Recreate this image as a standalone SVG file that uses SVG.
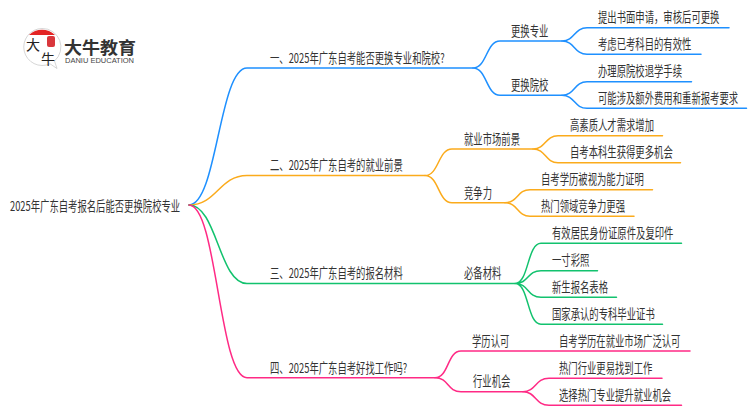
<svg xmlns="http://www.w3.org/2000/svg" width="750" height="410" viewBox="0 0 750 410">
<style>
text{font-family:"Noto Sans CJK SC","Noto Sans",sans-serif;font-size:13.350px;fill:#333;dominant-baseline:central}
.c{fill:none;stroke-width:1.500;stroke-linecap:round}
.b{stroke:#1e90ff}.o{stroke:#fbab1c}.g{stroke:#12c26e}.p{stroke:#ff2a85}
</style>
<rect width="750" height="410" fill="#fff"/>
<g id="connectors">
<path class="c b" d="M189 205C217 205 219 68 247 68H473"/>
<path class="c b" d="M473 68C487 68 486 41 500 41H562M473 68C487 68 486 95.300 500 95.300H562"/>
<path class="c b" d="M562 41C575 41 574 27.700 587 27.700H729M562 41C575 41 574 54.300 587 54.300H701"/>
<path class="c b" d="M562 95.300C575 95.300 574 81.700 587 81.700H691.500M562 95.300C575 95.300 574 108.300 587 108.300H746.500"/>
<path class="c o" d="M189 205C217 205 219 175.500 247 175.500H425"/>
<path class="c o" d="M425 175.500C439 175.500 438 149 452 149H533M425 175.500C439 175.500 438 202.700 452 202.700H505"/>
<path class="c o" d="M533 149C546 149 545 135.700 558 135.700H662.500M533 149C546 149 545 162.700 558 162.700H680.500"/>
<path class="c o" d="M505 202.700C518 202.700 517 189.700 530 189.700H652.500M505 202.700C518 202.700 517 216.300 530 216.300H634"/>
<path class="c g" d="M189 205C217 205 219 283.500 247 283.500H515"/>
<path class="c g" d="M515 283.500C529 283.500 527 243.300 541 243.300H681.500M515 283.500C529 283.500 527 270.700 541 270.700H597.500M515 283.500C529 283.500 527 297.300 541 297.300H616.500M515 283.500C529 283.500 527 324.300 541 324.300H662.500"/>
<path class="c p" d="M189 205C217 205 219 377.700 247 377.700H435"/>
<path class="c p" d="M435 377.700C449 377.700 447 351 461 351H690M435 377.700C449 377.700 447 391.700 461 391.700H523"/>
<path class="c p" d="M523 391.700C536 391.700 535 378.300 549 378.300H662M523 391.700C536 391.700 535 405.300 549 405.300H681.500"/>
</g>
<g id="logo">
<path d="M42 28.500a18.500 18.500 0 1 0 8 35.300l7 4.700-2.500-7.500a18.500 18.500 0 0 0-12.500-32.500z" fill="#fff" stroke="#ccc" stroke-width="0.800"/>
<path d="M29 35a18.500 18.500 0 0 1 26 0z" fill="#e32424"/>
<rect x="47" y="36" width="8" height="11" rx="2" fill="#d9373c"/>
<text x="26" y="44" style="font-size:14px;fill:#222">大</text>
<text x="41" y="58" style="font-size:14px;fill:#222">牛</text>
<text x="64" y="46" textLength="72" lengthAdjust="spacingAndGlyphs" style="font-size:17px;font-weight:700;fill:#333">大牛教育</text>
<text x="65" y="60.500" textLength="69" lengthAdjust="spacingAndGlyphs" style="font-family:'Liberation Sans',sans-serif;font-size:7px;fill:#444">DANIU EDUCATION</text>
</g>
<g id="root"><text transform="matrix(.7 0 0 1 10 205)">2025年广东自考报名后能否更换院校专业</text></g>
<g id="n1"><text transform="matrix(.7 0 0 1 270 57)">一、2025年广东自考能否更换专业和院校?</text></g>
<g id="n2"><text transform="matrix(.7 0 0 1 270 164.500)">二、2025年广东自考的就业前景</text></g>
<g id="n3"><text transform="matrix(.7 0 0 1 270 272)">三、2025年广东自考的报名材料</text></g>
<g id="n4"><text transform="matrix(.7 0 0 1 270 367)">四、2025年广东自考好找工作吗?</text></g>
<g id="n1a"><text transform="matrix(.7 0 0 1 511 30)">更换专业</text></g>
<g id="n1b"><text transform="matrix(.7 0 0 1 511 84)">更换院校</text></g>
<g id="n1a1"><text transform="matrix(.7 0 0 1 598 16.500)">提出书面申请，审核后可更换</text></g>
<g id="n1a2"><text transform="matrix(.7 0 0 1 598 43.500)">考虑已考科目的有效性</text></g>
<g id="n1b1"><text transform="matrix(.7 0 0 1 598 70.500)">办理原院校退学手续</text></g>
<g id="n1b2"><text transform="matrix(.7 0 0 1 598 97)">可能涉及额外费用和重新报考要求</text></g>
<g id="n2a"><text transform="matrix(.7 0 0 1 464 138)">就业市场前景</text></g>
<g id="n2b"><text transform="matrix(.7 0 0 1 464 192)">竞争力</text></g>
<g id="n2a1"><text transform="matrix(.7 0 0 1 570 124.500)">高素质人才需求增加</text></g>
<g id="n2a2"><text transform="matrix(.7 0 0 1 570 151.500)">自考本科生获得更多机会</text></g>
<g id="n2b1"><text transform="matrix(.7 0 0 1 541 178.500)">自考学历被视为能力证明</text></g>
<g id="n2b2"><text transform="matrix(.7 0 0 1 541 205)">热门领域竞争力更强</text></g>
<g id="n3a"><text transform="matrix(.7 0 0 1 464 272.500)">必备材料</text></g>
<g id="n3a1"><text transform="matrix(.7 0 0 1 552 232)">有效居民身份证原件及复印件</text></g>
<g id="n3a2"><text transform="matrix(.7 0 0 1 552 259)">一寸彩照</text></g>
<g id="n3a3"><text transform="matrix(.7 0 0 1 552 286)">新生报名表格</text></g>
<g id="n3a4"><text transform="matrix(.7 0 0 1 552 313)">国家承认的专科毕业证书</text></g>
<g id="n4a"><text transform="matrix(.7 0 0 1 472 340)">学历认可</text></g>
<g id="n4a1"><text transform="matrix(.7 0 0 1 559 340)">自考学历在就业市场广泛认可</text></g>
<g id="n4b"><text transform="matrix(.7 0 0 1 473 380.500)">行业机会</text></g>
<g id="n4b1"><text transform="matrix(.7 0 0 1 559 367)">热门行业更易找到工作</text></g>
<g id="n4b2"><text transform="matrix(.7 0 0 1 559 394)">选择热门专业提升就业机会</text></g>
</svg>
